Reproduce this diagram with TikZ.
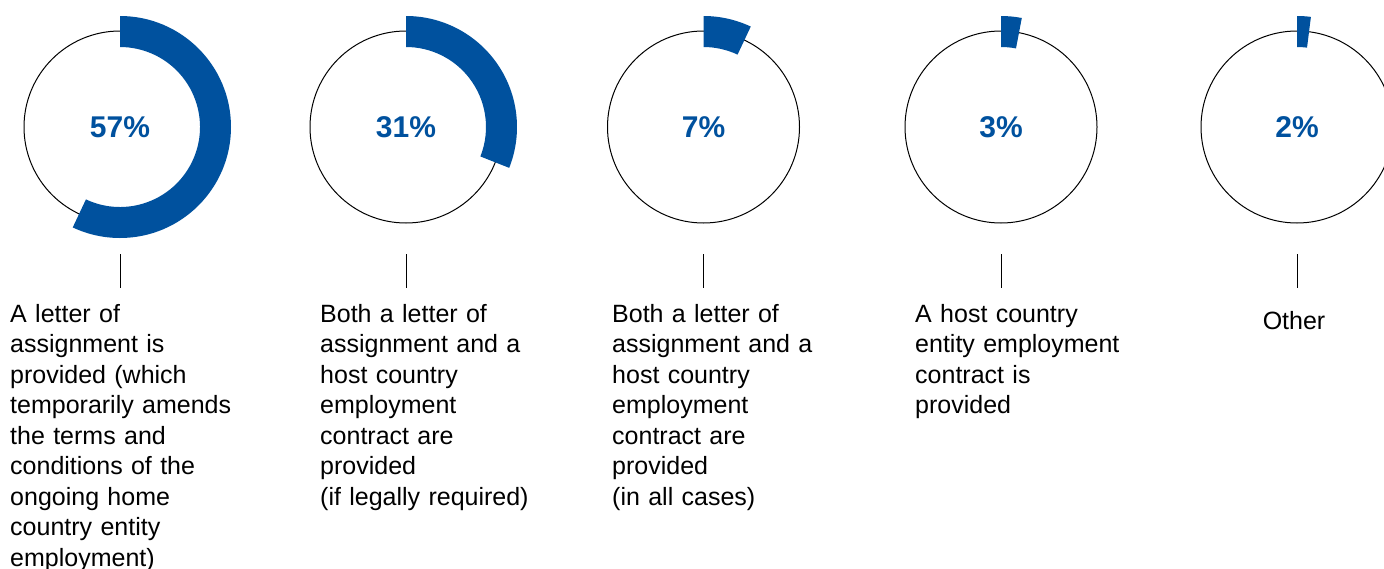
\documentclass[tikz,border=0pt]{standalone}
\usepackage{fontspec}
\setmainfont{Liberation Sans}
\usetikzlibrary{positioning}
\definecolor{donutblue}{RGB}{0,81,158}

\tikzset{
  ring/.style={circle, draw, line width=1pt, minimum size=192pt, inner sep=0pt},
  pcttext/.style={text=donutblue, font=\fontsize{30}{36}\selectfont\bfseries, inner sep=0pt},
  labeltext/.style={font=\fontsize{25}{30.5}\selectfont, text width=260pt, align=left, inner sep=0pt, anchor=base west},
  tick/.style={line width=0.9pt}
}

\begin{document}
\begin{tikzpicture}[x=1pt,y=1pt]
  \useasboundingbox (0,0) rectangle (1384,-568);

  % Rings
  \foreach \name/\cx/\pct in {a/120/57, b/406/31, c/703.5/7, d/1001/3, e/1297/2}
  {
    \pgfmathsetmacro\endang{90-3.6*\pct}
    \node[ring] (ring\name) at (\cx,-127) {};
    \fill[donutblue] ([shift={(\cx,-127)}]90:111) arc[start angle=90, end angle=\endang, radius=111]
      -- ([shift={(\cx,-127)}]\endang:80) arc[start angle=\endang, end angle=90, radius=80] -- cycle;
    \node[pcttext] (pct\name) at (ring\name.center) {\pct\%};
    \coordinate (top\name) at (\cx,-254);
    \coordinate (bot\name) at (\cx,-288);
    \draw[tick] (top\name) -- (bot\name);
  }

  % Labels
  \node[labeltext] (labela) at (10,-322) {A letter of\\assignment is\\provided (which\\temporarily amends\\the terms and\\conditions of the\\ongoing home\\country entity\\employment)};
  \node[labeltext] (labelb) at (320,-322) {Both a letter of\\assignment and a\\host country\\employment\\contract are\\provided\\(if legally required)};
  \node[labeltext] (labelc) at (612,-322) {Both a letter of\\assignment and a\\host country\\employment\\contract are\\provided\\(in all cases)};
  \node[labeltext] (labeld) at (915,-322) {A host country\\entity employment\\contract is\\provided};
  \node[font=\fontsize{25}{30.5}\selectfont, inner sep=0pt, anchor=base] (labele) at (1294,-329) {Other};
\end{tikzpicture}
\end{document}
